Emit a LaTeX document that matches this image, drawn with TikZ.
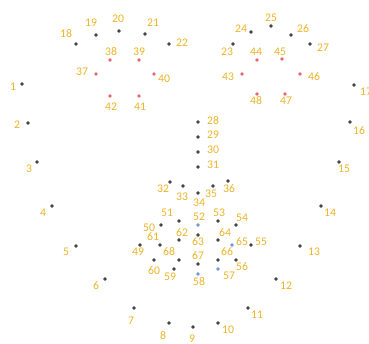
\documentclass[tikz,border=0pt]{standalone}
\usepackage{fontspec}
\setmainfont{Carlito}
\definecolor{lblc}{RGB}{236,180,40}
\definecolor{eyered}{RGB}{225,40,50}
\definecolor{lipblue}{RGB}{70,110,200}
\tikzset{
  lbl/.style={inner sep=0pt, text=lblc, font=\fontsize{11.7}{12}\selectfont},
  dotk/.style={circle, inner sep=0pt, minimum size=3.4pt, fill=black, draw=black!45, line width=0.7pt},
  dotr/.style={dotk, fill=eyered, draw=eyered!40},
  dotb/.style={dotk, fill=lipblue, draw=lipblue!45},
}
\begin{document}
\begin{tikzpicture}[x=1pt,y=-1pt]
\useasboundingbox (0,0) rectangle (369,344);
\clip (0,0) rectangle (369,344);
\foreach \n/\x/\y/\lx/\ly/\s in {
1/22/84/13/87/dotk, 2/28/123/17/125/dotk, 3/37/162/29/169/dotk, 4/52/206/43/213/dotk,
5/76/246/66/252/dotk, 6/105/279/96/286/dotk, 7/134/308/131/321/dotk, 8/169/323/163/336/dotk,
9/193/327/192/339/dotk, 10/218/323/228/330/dotk, 11/248/308/257/315/dotk, 12/276/279/286/286/dotk,
13/300/246/314/252/dotk, 14/321/206/330/213/dotk, 15/339/162/344/169/dotk, 16/350/122/359/131/dotk,
17/354/85/366/92/dotk, 18/76/44/66/34/dotk, 19/96/35/91/23/dotk, 20/119/31/118/19/dotk,
21/145/34/153/23/dotk, 22/169/44/182/43/dotk, 23/233/44/227/52/dotk, 24/251/32/241/29/dotk,
25/271/26/271/18/dotk, 26/291/35/303/29/dotk, 27/310/44/323/48/dotk, 28/198/122/213/121/dotk,
29/198/137/213/135/dotk, 30/198/152/213/150/dotk, 31/198/167/213/165/dotk, 32/170/182/163/189/dotk,
33/183/186/182/197/dotk, 34/198/193/199/203/dotk, 35/213/186/211/194/dotk, 36/228/181/229/189/dotk,
37/96/74/82/72/dotr, 38/110/60/111/52/dotr, 39/139/60/139/52/dotr, 40/154/74/164/79/dotr,
41/139/96/140/107/dotr, 42/110/96/111/107/dotr, 43/242/74/228/77/dotr, 44/257/60/256/52/dotr,
45/282/59/280/52/dotr, 46/300/74/314/77/dotr, 47/285/94/286/101/dotr, 48/257/94/256/101/dotr,
49/140/245/138/252/dotk, 50/161/225/149/228/dotk, 51/179/221/167/213/dotk, 52/198/225/199/217/dotb,
53/218/221/219/213/dotk, 54/236/225/242/218/dotk, 55/251/245/261/242/dotk, 56/236/260/242/267/dotk,
57/218/269/229/276/dotb, 58/198/274/199/282/dotb, 59/174/269/170/277/dotk, 60/154/260/154/271/dotk,
61/160/245/153/237/dotk, 62/179/240/182/233/dotk, 63/198/235/198/242/dotk, 64/218/240/225/233/dotk,
65/232/245/242/242/dotb, 66/218/260/227/252/dotk, 67/198/264/198/256/dotk, 68/179/260/169/252/dotk}
{
  \node[\s] (p\n) at (\x,\y) {};
  \node[lbl] (l\n) at (\lx,\ly) {\n};
}
\end{tikzpicture}
\end{document}
